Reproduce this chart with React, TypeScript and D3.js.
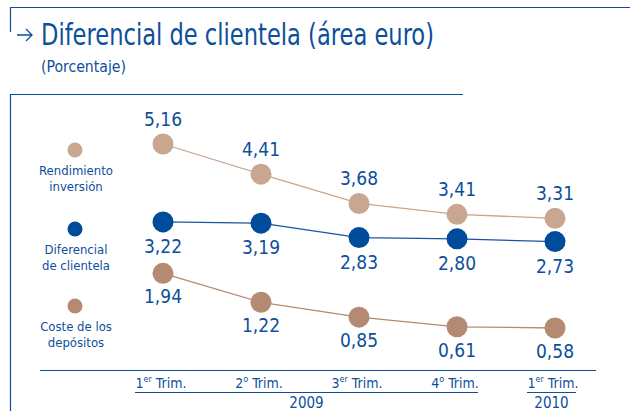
import React from 'react'
import * as d3 from 'd3'

const quarterNum = ['1', '2', '3', '4', '1']
const quarterSup = ['er', 'o', 'er', 'o', 'er']
const years = ['2009', '2010']
const yearOf = [0, 0, 0, 0, 1]

const rendimiento = [5.16, 4.41, 3.68, 3.41, 3.31]
const diferencial = [3.22, 3.19, 2.83, 2.80, 2.73]
const coste = [1.94, 1.22, 0.85, 0.61, 0.58]

const blue = '#0d4f9b'
const FONT = "'DejaVu Sans Condensed', sans-serif"

const series = [
  { name: ['Rendimiento', 'inversión'], values: rendimiento, color: '#c9a690', line: '#c9a690', labelDy: -18, legendY: 150 },
  { name: ['Diferencial', 'de clientela'], values: diferencial, color: '#004c9c', line: '#1655a0', labelDy: 31, legendY: 229 },
  { name: ['Coste de los', 'depósitos'], values: coste, color: '#b48a72', line: '#b48a72', labelDy: 30, legendY: 306 },
]

const fmt = (v: number) => d3.format('.2f')(v).replace('.', ',')

export default function App() {
  const x = d3.scalePoint<number>().domain(d3.range(quarterNum.length)).range([163, 555])
  const y = d3.scaleLinear().domain([0.58, 5.16]).range([328, 144])
  const line = d3.line<number>().x((_, i) => x(i)!).y(d => y(d))
  const lx = (i: number) => x(i)! - 2

  const yearGroups = years.map((yr, g) => {
    const idx = d3.range(quarterNum.length).filter(i => yearOf[i] === g)
    const x0 = lx(idx[0]) - 26
    const x1 = lx(idx[idx.length - 1]) + 23
    return { yr, x0, x1, cx: (x0 + x1) / 2 }
  })

  return (
    <svg width={630} height={411} style={{ position: 'absolute', left: 0, top: 0, fontFamily: FONT }}>
      <rect width={630} height={411} fill="#fff" />
      {/* frame */}
      <path d="M10.5,32 V7.5 H630" fill="none" stroke={blue} strokeWidth={1.2} />
      <path d="M10.5,411 V94.5 H463" fill="none" stroke={blue} strokeWidth={1.2} />
      <path d="M17,35 H32 M26,29 L32,35 L26,41" fill="none" stroke={blue} strokeWidth={1.3} />
      <text x={41} y={45} fontSize={30} fill={blue} textLength={393} lengthAdjust="spacingAndGlyphs">
        Diferencial de clientela (área euro)
      </text>
      <text x={41} y={72} fontSize={15} fill={blue} textLength={85} lengthAdjust="spacingAndGlyphs">(Porcentaje)</text>

      {/* legend */}
      {series.map((s, k) => (
        <g key={'lg' + k}>
          <circle cx={75} cy={s.legendY} r={7.5} fill={s.color} />
          {s.name.map((t, j) => (
            <text key={j} x={76} y={s.legendY + 25 + j * 16} fontSize={13} fill={blue} textAnchor="middle">{t}</text>
          ))}
        </g>
      ))}

      {/* series */}
      {series.map((s, k) => (
        <g key={'s' + k}>
          <path d={line(s.values)!} fill="none" stroke={s.line} strokeWidth={1.3} />
          {s.values.map((v, i) => (
            <g key={i}>
              <circle cx={x(i)} cy={y(v)} r={10.5} fill={s.color} />
              <text x={x(i)} y={y(v) + s.labelDy} fontSize={19} fill={blue} textAnchor="middle">{fmt(v)}</text>
            </g>
          ))}
        </g>
      ))}

      {/* x axis */}
      <line x1={40} x2={596} y1={370.5} y2={370.5} stroke={blue} strokeWidth={1.2} />
      {quarterNum.map((n, i) => (
        <text key={'q' + i} x={lx(i)} y={388} fontSize={14} fill={blue} textAnchor="middle">
          {n}<tspan fontSize={9} dy={-6}>{quarterSup[i]}</tspan><tspan dy={6}> Trim.</tspan>
        </text>
      ))}
      {yearGroups.map((g, k) => (
        <g key={'y' + k}>
          <line x1={g.x0} x2={g.x1} y1={392.5} y2={392.5} stroke={blue} strokeWidth={1.2} />
          <text x={g.cx} y={408} fontSize={15} fill={blue} textAnchor="middle">{g.yr}</text>
        </g>
      ))}
    </svg>
  )
}
